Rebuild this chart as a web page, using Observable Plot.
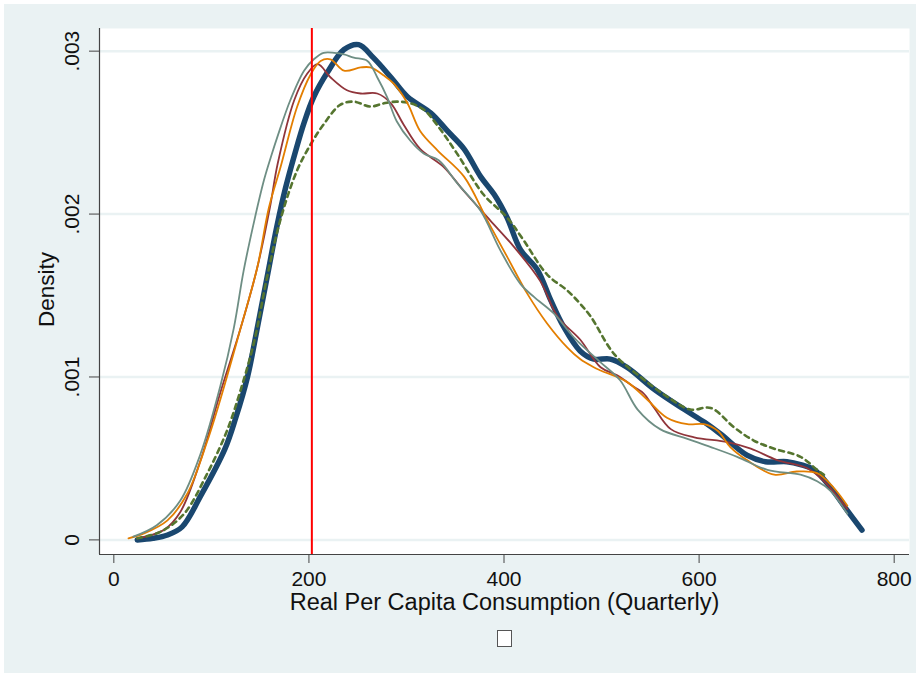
<!DOCTYPE html>
<html>
<head>
<meta charset="utf-8">
<script src="https://cdn.jsdelivr.net/npm/d3@7"></script>
<script src="https://cdn.jsdelivr.net/npm/@observablehq/plot@0.6"></script>
<style>
  html, body { margin: 0; padding: 0; background: #ffffff; }
  #fig { position: relative; width: 920px; height: 677px; background: #eaf2f3; clip-path: inset(4px); font-family: "Liberation Sans", Arial, sans-serif; }
  #fig svg { display: block; }
  #legend { position: relative; height: 52px; }
  #legend .key { position: absolute; left: 497px; top: 5px; width: 13px; height: 15px; background: #ffffff; border: 1px solid #555; }
</style>
</head>
<body>
<div id="fig"></div>
<script>
// ---- data ----
const xTicks = [0, 200, 400, 600, 800];
const xTickLabels = ["0", "200", "400", "600", "800"];
const yTicks = [0, 0.001, 0.002, 0.003];
const yTickLabels = ["0", ".001", ".002", ".003"];
const xTitle = "Real Per Capita Consumption (Quarterly)";
const yTitle = "Density";
const povertyLine = 203;

const navyX = [24, 40, 55, 70, 89, 114, 125, 137, 148, 158, 167, 176, 186, 195, 205, 219, 236, 251, 266, 284, 301, 325, 342, 359, 376, 390, 403, 417, 434, 448, 461, 478, 492, 509, 526, 555, 585, 606, 622, 649, 668, 690, 705, 718, 735, 752, 767];
const navyY = [0.00000, 0.00001, 0.00003, 0.00008, 0.00027, 0.00056, 0.00075, 0.00100, 0.00133, 0.00164, 0.00192, 0.00216, 0.00238, 0.00256, 0.00272, 0.00287, 0.00301, 0.00304, 0.00296, 0.00284, 0.00272, 0.00262, 0.00251, 0.00240, 0.00223, 0.00212, 0.00198, 0.00178, 0.00166, 0.00147, 0.00131, 0.00116, 0.00111, 0.00111, 0.00106, 0.00092, 0.00080, 0.00072, 0.00065, 0.00052, 0.00048, 0.00048, 0.00046, 0.00043, 0.00032, 0.00018, 0.00006];

const maroonX = [24, 51, 68, 89, 109, 130, 147, 160, 168, 185, 198, 209, 222, 239, 253, 270, 284, 297, 314, 338, 359, 386, 410, 437, 455, 478, 499, 516, 533, 543, 554, 571, 595, 629, 653, 680, 711, 728, 748, 752];
const maroonY = [0.00001, 0.00006, 0.00017, 0.00049, 0.00090, 0.00130, 0.00167, 0.00204, 0.00231, 0.00270, 0.00286, 0.00292, 0.00284, 0.00276, 0.00274, 0.00274, 0.00268, 0.00255, 0.00240, 0.00229, 0.00214, 0.00196, 0.00180, 0.00159, 0.00137, 0.00123, 0.00106, 0.00101, 0.00094, 0.00090, 0.00081, 0.00068, 0.00063, 0.00060, 0.00056, 0.00049, 0.00044, 0.00036, 0.00022, 0.00019];

const greenX = [24, 48, 72, 96, 116, 130, 144, 157, 171, 188, 202, 215, 232, 246, 263, 277, 290, 304, 318, 331, 352, 379, 403, 420, 444, 465, 478, 489, 513, 540, 567, 591, 612, 636, 656, 677, 704, 721, 728];
const greenY = [0.00001, 0.00005, 0.00016, 0.00041, 0.00067, 0.00092, 0.00122, 0.00161, 0.00197, 0.00227, 0.00243, 0.00255, 0.00267, 0.00269, 0.00266, 0.00268, 0.00269, 0.00268, 0.00264, 0.00255, 0.00237, 0.00212, 0.00198, 0.00184, 0.00163, 0.00153, 0.00145, 0.00137, 0.00114, 0.00100, 0.00088, 0.00080, 0.00081, 0.00069, 0.00061, 0.00056, 0.00051, 0.00043, 0.00040];

const orangeX = [15, 31, 55, 75, 96, 113, 130, 147, 159, 171, 188, 202, 212, 222, 236, 253, 263, 277, 287, 301, 314, 332, 359, 383, 403, 424, 444, 465, 478, 492, 499, 526, 547, 567, 588, 605, 619, 632, 649, 677, 700, 721, 738, 752];
const orangeY = [0.00001, 0.00004, 0.00012, 0.00028, 0.00061, 0.00094, 0.00130, 0.00167, 0.00204, 0.00229, 0.00266, 0.00286, 0.00294, 0.00295, 0.00288, 0.00290, 0.00290, 0.00285, 0.00280, 0.00268, 0.00251, 0.00239, 0.00223, 0.00196, 0.00174, 0.00151, 0.00133, 0.00118, 0.00111, 0.00106, 0.00104, 0.00097, 0.00086, 0.00075, 0.00071, 0.00071, 0.00067, 0.00057, 0.00049, 0.00040, 0.00042, 0.00041, 0.00032, 0.00021];

const tealX = [20, 44, 68, 89, 109, 123, 133, 144, 154, 161, 168, 181, 195, 205, 215, 226, 236, 246, 260, 270, 280, 290, 304, 318, 333, 352, 376, 396, 417, 431, 451, 472, 499, 519, 537, 560, 588, 612, 639, 670, 704, 721, 735, 752];
const tealY = [0.00002, 0.00009, 0.00024, 0.00053, 0.00094, 0.00130, 0.00165, 0.00196, 0.00221, 0.00235, 0.00248, 0.00270, 0.00288, 0.00295, 0.00299, 0.00299, 0.00298, 0.00296, 0.00294, 0.00284, 0.00272, 0.00257, 0.00245, 0.00237, 0.00233, 0.00219, 0.00202, 0.00178, 0.00157, 0.00149, 0.00139, 0.00124, 0.00109, 0.00098, 0.00080, 0.00068, 0.00062, 0.00057, 0.00051, 0.00043, 0.00040, 0.00036, 0.00030, 0.00016];

// ---- build tables ----
const toRows = (xs, ys) => xs.map((x, i) => ({x, y: ys[i]}));
const navy = toRows(navyX, navyY);
const maroon = toRows(maroonX, maroonY);
const green = toRows(greenX, greenY);
const orange = toRows(orangeX, orangeY);
const teal = toRows(tealX, tealY);

const xDomain = [-14.7, 815.7];
const yDomain = [-0.0000896, 0.003139];
const font = "Liberation Sans, Arial, sans-serif";

const chart = Plot.plot({
  width: 920,
  height: 625,
  marginLeft: 99,
  marginRight: 11,
  marginTop: 28,
  marginBottom: 71,
  x: {domain: xDomain},
  y: {domain: yDomain},
  style: {background: "transparent", fontFamily: font, overflow: "visible"},
  marks: [
    Plot.frame({fill: "#ffffff", stroke: null}),
    Plot.ruleY(yTicks, {stroke: "#eaf2f3", strokeWidth: 2.5}),
    Plot.ruleY([yDomain[0]], {stroke: "#444", strokeWidth: 1.2}),
    Plot.ruleX([xDomain[0]], {stroke: "#444", strokeWidth: 1.2}),
    Plot.axisX(xTicks, {tickSize: 9, tickPadding: 8, fontSize: 21, stroke: "#444", fill: "#111", label: null,
      tickFormat: (d) => xTickLabels[xTicks.indexOf(d)]}),
    Plot.axisY(yTicks, {tickSize: 10, stroke: "#444", label: null, tickFormat: () => ""}),
    Plot.text(yTicks, {y: (d) => d, text: (d, i) => yTickLabels[i], frameAnchor: "left", textAnchor: "middle", dx: -27.5, rotate: -90, fontSize: 21, fill: "#111"}),
    Plot.text([yTitle], {text: (d) => d, frameAnchor: "left", textAnchor: "middle", dx: -53, dy: -2, rotate: -90, fontSize: 22.5, fill: "#111"}),
    Plot.text([xTitle], {text: (d) => d, frameAnchor: "bottom", textAnchor: "middle", dy: 55, fontSize: 23.5, fill: "#111"}),
    Plot.line(navy, {x: "x", y: "y", stroke: "#1a476f", strokeWidth: 5.5, curve: "catmull-rom"}),
    Plot.line(maroon, {x: "x", y: "y", stroke: "#90353b", strokeWidth: 1.8, curve: "catmull-rom"}),
    Plot.line(green, {x: "x", y: "y", stroke: "#55752f", strokeWidth: 2.6, strokeDasharray: "5,4.5", curve: "catmull-rom"}),
    Plot.line(orange, {x: "x", y: "y", stroke: "#e37e00", strokeWidth: 1.8, curve: "catmull-rom"}),
    Plot.line(teal, {x: "x", y: "y", stroke: "#6e8e84", strokeWidth: 1.8, curve: "catmull-rom"}),
    Plot.ruleX([povertyLine], {stroke: "#ff0000", strokeWidth: 2})
  ]
});

const fig = document.getElementById("fig");
fig.appendChild(chart);
const legend = document.createElement("div");
legend.id = "legend";
legend.innerHTML = '<div class="key"></div>';
fig.appendChild(legend);
</script>
</body>
</html>
